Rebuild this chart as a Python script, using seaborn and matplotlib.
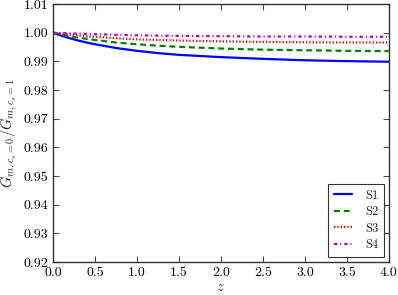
import numpy as np
import pandas as pd
import seaborn as sns
import matplotlib
matplotlib.use('Agg')
import matplotlib.pyplot as plt

# values
z = [0.0, 0.1, 0.2, 0.3, 0.4, 0.5, 0.75, 1.0, 1.25, 1.5, 2.0, 2.5, 3.0, 3.5, 4.0]
s1 = [1.0, 0.9990, 0.9981, 0.9973, 0.9966, 0.9960, 0.9947, 0.9937, 0.9929, 0.9923, 0.9915, 0.9909, 0.9904, 0.9901, 0.9899]
s2 = [1.0, 0.9994, 0.9988, 0.9983, 0.9979, 0.9975, 0.9966, 0.9960, 0.9955, 0.9951, 0.9945, 0.9941, 0.9939, 0.9937, 0.9936]
s3 = [1.0, 0.9997, 0.9994, 0.9991, 0.9988, 0.9986, 0.9981, 0.9977, 0.9975, 0.9973, 0.9970, 0.9968, 0.9967, 0.9966, 0.9966]
s4 = [1.0, 0.9999, 0.9998, 0.9997, 0.9996, 0.9995, 0.9993, 0.9991, 0.9990, 0.9989, 0.9988, 0.9987, 0.9987, 0.9986, 0.9986]
labels = ['S1', 'S2', 'S3', 'S4']

sns.set_style('ticks')
plt.rcParams['font.family'] = 'serif'
plt.rcParams['font.serif'] = ['cmr10']
plt.rcParams['mathtext.fontset'] = 'cm'
plt.rcParams['axes.formatter.use_mathtext'] = True
plt.rcParams['xtick.direction'] = 'in'
plt.rcParams['ytick.direction'] = 'in'
plt.rcParams['xtick.top'] = True
plt.rcParams['ytick.right'] = True

df = pd.DataFrame({'z': z * 4,
                   'val': s1 + s2 + s3 + s4,
                   'series': sum([[l] * len(z) for l in labels], [])})

fig = plt.figure(figsize=(3.98, 2.95), dpi=100)
ax = fig.add_axes([0.133, 0.112, 0.844, 0.874])

colors = {'S1': 'b', 'S2': 'g', 'S3': 'r', 'S4': 'm'}
dashes = {'S1': None, 'S2': (2.7, 1.7), 'S3': (0.6, 0.9), 'S4': (1.5, 1.3, 0.5, 1.3)}
for lab in labels:
    sub = df[df['series'] == lab]
    sns.lineplot(data=sub, x='z', y='val', ax=ax, color=colors[lab],
                 linewidth=1.6, label=lab)
    if dashes[lab] is not None:
        ax.lines[-1].set_dashes(dashes[lab])

ax.set_xlim(0, 4)
ax.set_ylim(0.92, 1.01)
ax.set_xticks(np.arange(0, 4.01, 0.5))
ax.set_yticks(np.arange(0.92, 1.0101, 0.01))
ax.set_xticklabels([f'{v:.1f}' for v in np.arange(0, 4.01, 0.5)])
ax.set_yticklabels([f'{v:.2f}' for v in np.arange(0.92, 1.0101, 0.01)])
ax.tick_params(labelsize=10, length=4, width=0.8, colors='0.3', labelcolor='black')
for sp in ax.spines.values():
    sp.set_color('0.2')
    sp.set_linewidth(1.0)
ax.set_xlabel('$z$', fontsize=10.5, labelpad=1)
ax.set_ylabel('$G_{m,c_s=0}/G_{m,c_s=1}$', fontsize=10.5, labelpad=3)

leg = ax.legend(loc='lower right', fontsize=9, frameon=True, fancybox=False,
                handlelength=1.5, borderpad=0.45, labelspacing=0.35,
                handletextpad=1.0, borderaxespad=0.4)
leg.get_frame().set_edgecolor('black')
leg.get_frame().set_linewidth(0.8)

fig.savefig('out.png', dpi=100)
